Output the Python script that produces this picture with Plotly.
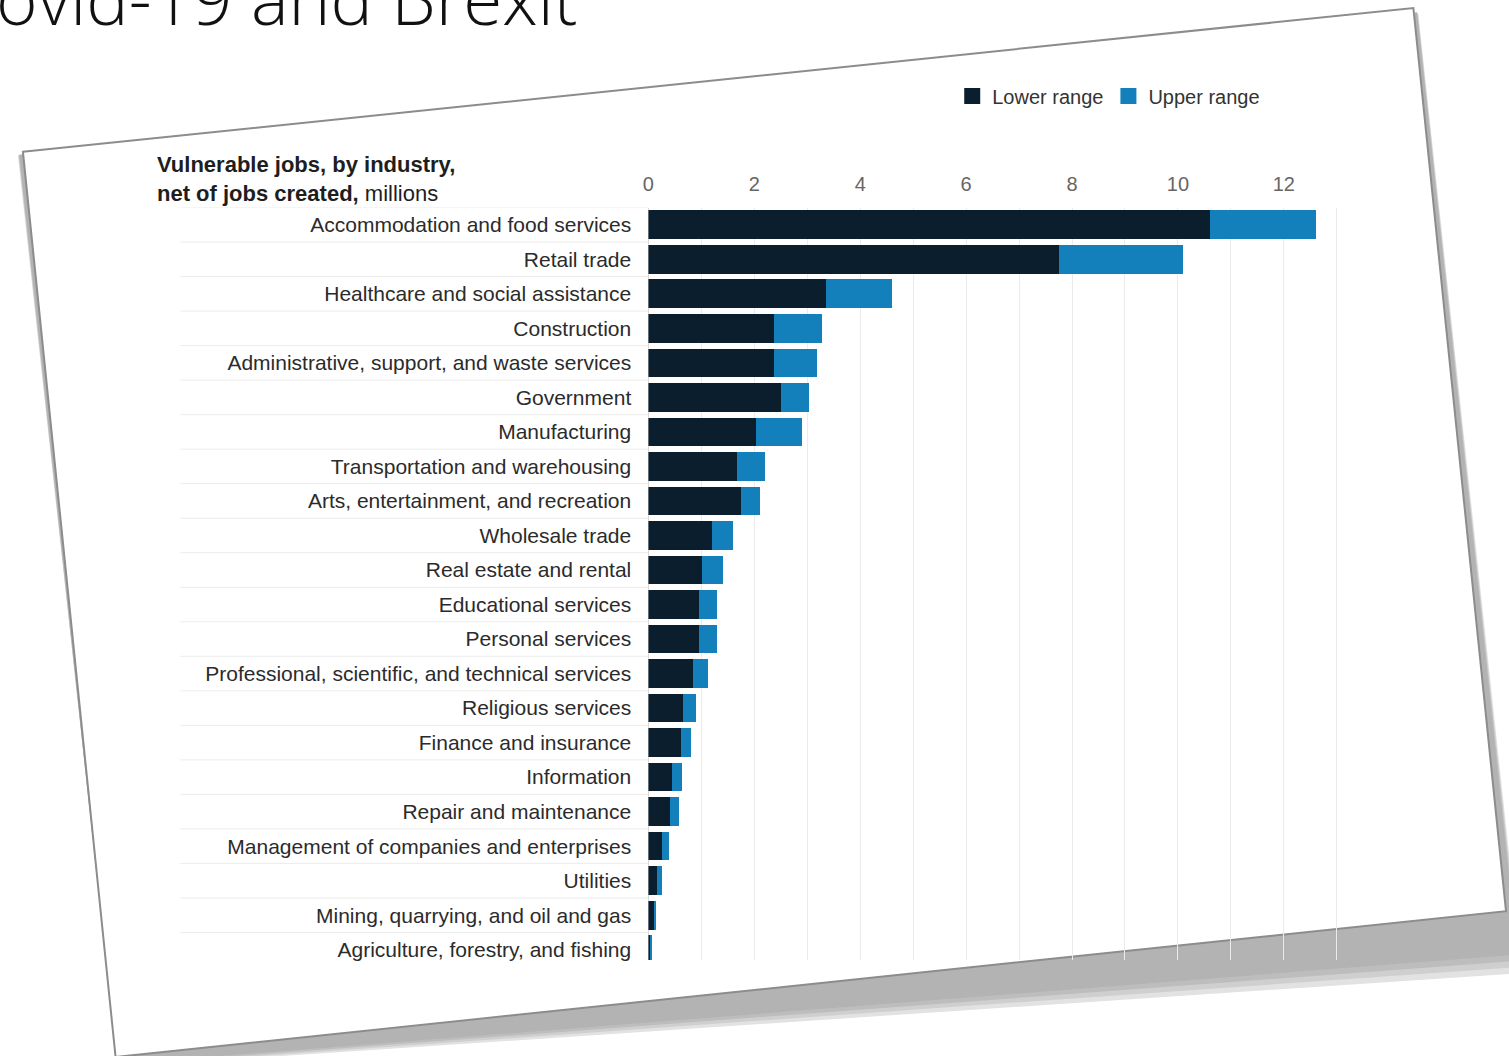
import plotly.graph_objects as go

W, H = 1509, 1056

categories = [
    "Accommodation and food services", "Retail trade", "Healthcare and social assistance",
    "Construction", "Administrative, support, and waste services", "Government",
    "Manufacturing", "Transportation and warehousing", "Arts, entertainment, and recreation",
    "Wholesale trade", "Real estate and rental", "Educational services", "Personal services",
    "Professional, scientific, and technical services", "Religious services",
    "Finance and insurance", "Information", "Repair and maintenance",
    "Management of companies and enterprises", "Utilities", "Mining, quarrying, and oil and gas",
    "Agriculture, forestry, and fishing",
]
lower_range = [10.6, 7.75, 3.35, 2.37, 2.37, 2.5, 2.04, 1.68, 1.74, 1.2, 1.02, 0.95, 0.96,
               0.85, 0.66, 0.61, 0.45, 0.41, 0.25, 0.17, 0.11, 0.04]
upper_range = [12.6, 10.1, 4.6, 3.27, 3.18, 3.04, 2.9, 2.2, 2.1, 1.59, 1.4, 1.3, 1.29,
               1.12, 0.89, 0.8, 0.64, 0.58, 0.38, 0.25, 0.15, 0.06]
upper_extra = [u - l for u, l in zip(upper_range, lower_range)]
tick_values = [0, 2, 4, 6, 8, 10, 12]
tick_labels = ["0", "2", "4", "6", "8", "10", "12"]

DARK = "#0b1e2d"
BLUE = "#1380bb"
FONT = "Liberation Sans, Arial, sans-serif"


def px(x, y):
    return f"{x / W:.5f},{1 - y / H:.5f}"


def poly(points):
    return "M " + " L ".join(px(x, y) for x, y in points) + " Z"


fig = go.Figure()
fig.add_trace(go.Bar(y=categories, x=lower_range, orientation="h", name="Lower range",
                     marker=dict(color=DARK, line=dict(width=0)), showlegend=False))
fig.add_trace(go.Bar(y=categories, x=upper_extra, orientation="h", name="Upper range",
                     marker=dict(color=BLUE, line=dict(width=0)), showlegend=False))
# legend entries with larger square keys
for name, col in [("Lower range", DARK), ("Upper range", BLUE)]:
    fig.add_trace(go.Scatter(x=[None], y=[None], mode="markers", name=name,
                             marker=dict(symbol="square", size=17, color=col)))

card = [(17, 152), (1413, 8), (1506, 912), (110, 1058)]
shapes = []
# shadow: grows towards the bottom-right
for k, col in [(1.0, "#e2e2e2"), (0.9, "#cfcfcf"), (0.8, "#bdbdbd"), (0.7, "#b3b3b3")]:
    sh = [(17 - 5 * k, 152 + 4 * k), (1413 + 5 * k, 8 + 6 * k),
          (1506 + 16 * k, 912 + 62 * k), (110 + 2 * k, 1058 + 10 * k)]
    shapes.append(dict(type="path", xref="paper", yref="paper", path=poly(sh),
                       fillcolor=col, line=dict(width=0), layer="below"))
shapes.append(dict(type="path", xref="paper", yref="paper", path=poly(card),
                   fillcolor="white", line=dict(color="#8c8c8c", width=2), layer="below"))

x_dom = [645 / W, 1352 / W]
y_dom = [1 - 961 / H, 1 - 207.7 / H]
for i in range(len(categories)):
    shapes.append(dict(type="line", xref="paper", yref="y", x0=175 / W, x1=x_dom[0],
                       y0=i - 0.5, y1=i - 0.5, line=dict(color="#ececec", width=1),
                       layer="below"))

fig.update_layout(
    width=W, height=H,
    margin=dict(l=0, r=0, t=0, b=0),
    paper_bgcolor="white", plot_bgcolor="rgba(0,0,0,0)",
    barmode="stack", bargap=0.17,
    font=dict(family=FONT, color="#2b2b2b"),
    shapes=shapes,
    showlegend=True,
    legend=dict(orientation="h", x=950 / W, y=1 - 96 / H, xanchor="left", yanchor="middle",
                font=dict(size=20, color="#333333"), bgcolor="rgba(0,0,0,0)",
                traceorder="normal", itemwidth=30),
    xaxis=dict(domain=x_dom, range=[0, 13.3], side="top", tickvals=tick_values,
               ticktext=tick_labels, showgrid=True, gridcolor="#ebebeb", gridwidth=1,
               minor=dict(dtick=1, showgrid=True, gridcolor="#ebebeb", gridwidth=1),
               zeroline=True, zerolinecolor="#d8d8d8", zerolinewidth=1,
               tickfont=dict(size=20, color="#666666"), ticks="outside", ticklen=8,
               tickcolor="rgba(0,0,0,0)", showline=False, fixedrange=True),
    yaxis=dict(domain=y_dom, range=[21.3, -0.5], type="category",
               tickfont=dict(size=21, color="#2b2b2b"), ticks="outside", ticklen=12,
               tickcolor="rgba(0,0,0,0)", showgrid=False, showline=False, fixedrange=True),
    annotations=[
        dict(text="Covid-19 and Brexit", xref="paper", yref="paper", x=-56 / W, y=1 + 53 / H,
             xanchor="left", yanchor="top", showarrow=False,
             font=dict(family="Open Sans, sans-serif", size=71, color="#111111", weight=300)),
        dict(text="<b>Vulnerable jobs, by industry,</b><br><b>net of jobs created,</b> millions",
             xref="paper", yref="paper", x=150 / W, y=1 - 208 / H, xanchor="left",
             yanchor="bottom", align="left", showarrow=False,
             font=dict(family=FONT, size=22, color="#1e1e1e")),
    ],
)

fig.write_html("out.html")
